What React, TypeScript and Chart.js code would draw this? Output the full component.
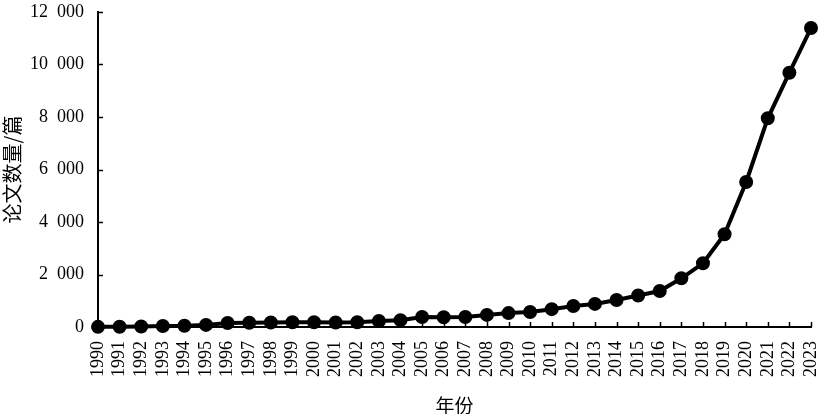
import React, { useEffect, useRef } from "react";
import { Chart, registerables } from "chart.js";

Chart.register(...registerables);

const years = [
  "1990","1991","1992","1993","1994","1995","1996","1997","1998","1999",
  "2000","2001","2002","2003","2004","2005","2006","2007","2008","2009",
  "2010","2011","2012","2013","2014","2015","2016","2017","2018","2019",
  "2020","2021","2022","2023",
];
const paperCounts = [
  5, 10, 20, 40, 50, 80, 150, 160, 170, 180,
  180, 170, 180, 230, 260, 380, 370, 380, 460, 530,
  570, 680, 800, 880, 1030, 1200, 1371, 1855, 2427, 3531,
  5524, 7950, 9688, 11390,
];
const yMin = 0;
const yMax = 12000;
const yStep = 2000;
const xTitle = "年份";
const yTitle = "论文数量/篇";

const FONT = '"Liberation Serif", "Noto Sans CJK SC", serif';
const CJK = '"Noto Sans CJK SC", "Liberation Serif", serif';

const insideTicks = {
  id: "insideTicks",
  afterDraw(chart: any) {
    const ctx = chart.ctx;
    const xs = chart.scales.x;
    const ys = chart.scales.y;
    const area = chart.chartArea;
    ctx.save();
    ctx.strokeStyle = "#000";
    ctx.lineWidth = 1.5;
    ctx.beginPath();
    xs.ticks.forEach((_: any, i: number) => {
      const px = Math.round(xs.getPixelForTick(i)) + 0.5;
      ctx.moveTo(px, area.bottom);
      ctx.lineTo(px, area.bottom - 5);
    });
    ys.ticks.forEach((_: any, i: number) => {
      const py = Math.round(ys.getPixelForTick(i)) + 0.5;
      ctx.moveTo(area.left, py);
      ctx.lineTo(area.left + 5, py);
    });
    ctx.stroke();
    ctx.restore();
  },
};

function fmt(v: number) {
  const s = String(Math.round(v));
  if (s.length <= 3) return s;
  return s.slice(0, s.length - 3) + "\u2002" + s.slice(s.length - 3);
}

export default function App() {
  const ref = useRef<HTMLCanvasElement | null>(null);
  useEffect(() => {
    document.body.style.margin = "0";
    const canvas = ref.current!;
    const chart = new Chart(canvas, {
      type: "line",
      data: {
        labels: years,
        datasets: [
          {
            data: paperCounts,
            borderColor: "#000",
            backgroundColor: "#000",
            borderWidth: 4,
            pointRadius: 5,
            pointBackgroundColor: "#000",
            pointBorderColor: "#000",
            tension: 0,
            clip: false,
          },
        ],
      },
      options: {
        animation: false,
        responsive: false,
        maintainAspectRatio: false,
        layout: { padding: { top: 12, right: 8, left: 0, bottom: 0 } },
        plugins: {
          legend: { display: false },
          tooltip: { enabled: false },
        },
        scales: {
          x: {
            offset: false,
            grid: { display: false, drawTicks: false },
            border: { display: true, color: "#000", width: 2 },
            ticks: {
              color: "#000",
              font: { family: FONT, size: 18 },
              minRotation: 90,
              maxRotation: 90,
              autoSkip: false,
              padding: 14,
            },
            title: {
              display: true,
              text: xTitle,
              color: "#000",
              font: { family: CJK, size: 19 },
              padding: { top: 0, bottom: -3 },
            },
            afterFit(scale: any) {
              scale.height = 87;
              scale.paddingLeft = 0;
              scale.paddingRight = 0;
            },
          },
          y: {
            min: yMin,
            max: yMax,
            grid: { display: false, drawTicks: false },
            border: { display: true, color: "#000", width: 2 },
            ticks: {
              stepSize: yStep,
              color: "#000",
              font: { family: FONT, size: 18 },
              padding: 14,
              callback: (v: any) => fmt(Number(v)),
            },
            title: {
              display: true,
              text: yTitle,
              color: "#000",
              font: { family: CJK, size: 20 },
              padding: { top: 0, bottom: 0 },
            },
            afterFit(scale: any) {
              scale.width = 98;
              scale.paddingTop = 0;
              scale.paddingBottom = 0;
            },
          },
        },
      },
      plugins: [insideTicks],
    });
    return () => chart.destroy();
  }, []);
  return (
    <div style={{ width: 820, height: 414 }}>
      <canvas ref={ref} width={820} height={414} style={{ display: "block" }} />
    </div>
  );
}
